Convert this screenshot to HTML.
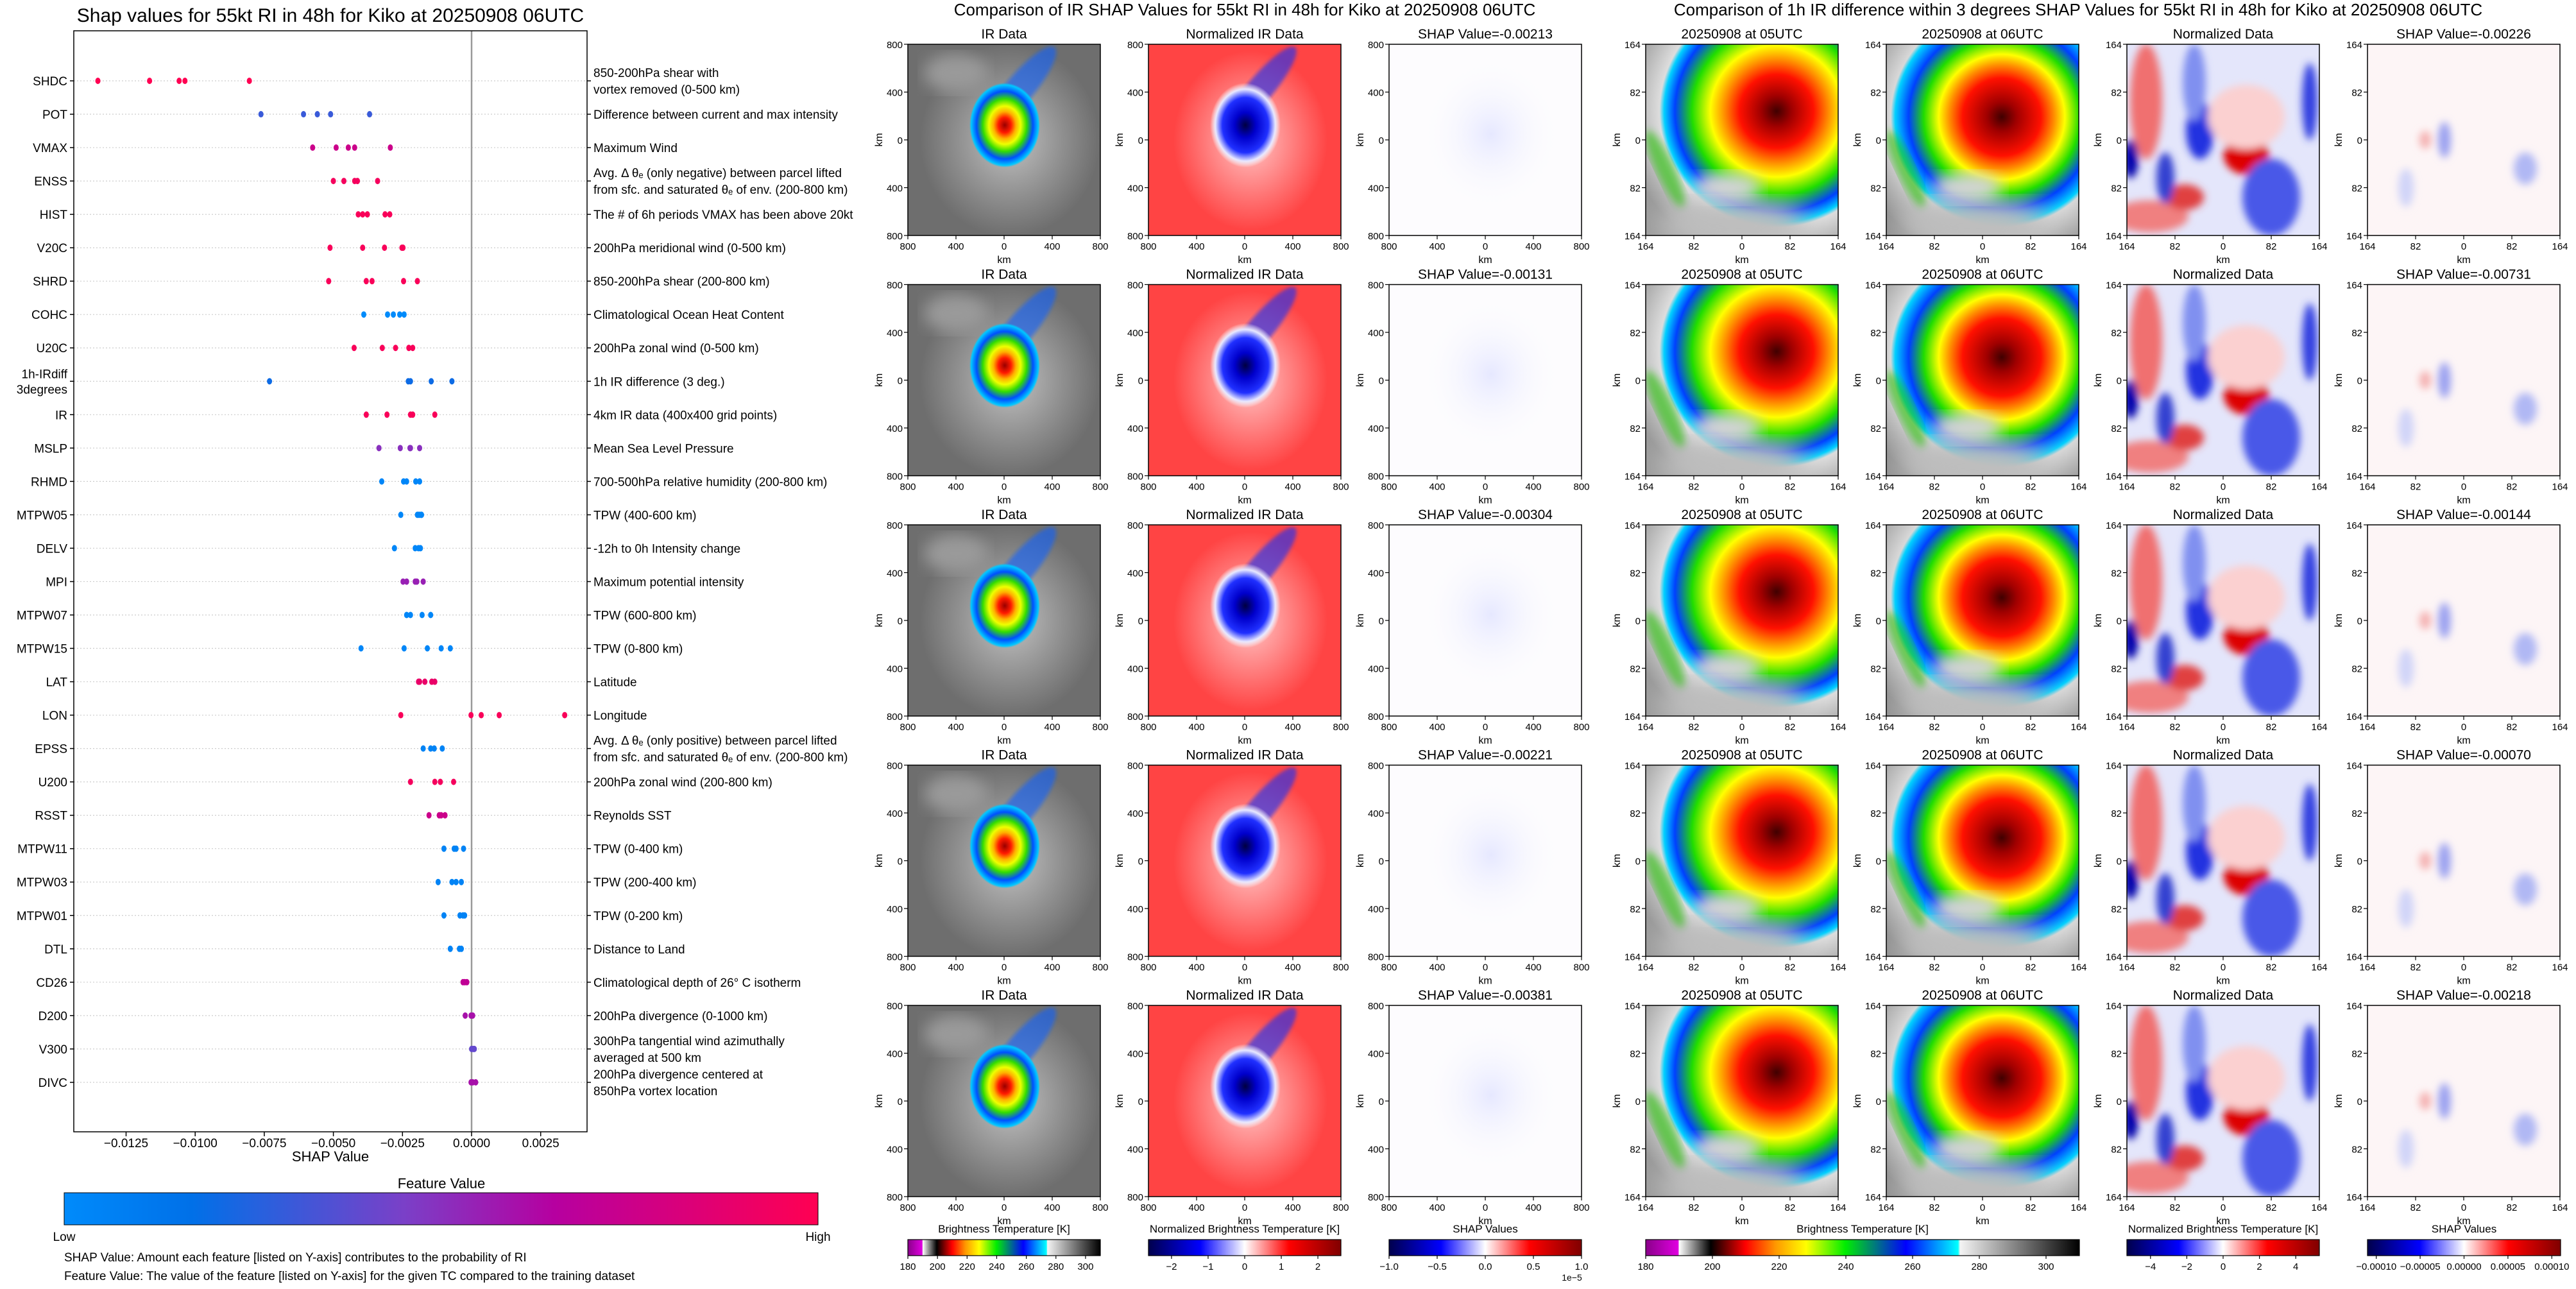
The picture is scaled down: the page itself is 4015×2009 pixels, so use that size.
<!DOCTYPE html>
<html><head><meta charset="utf-8"><title>Kiko SHAP</title>
<style>
html,body{margin:0;padding:0;background:#fff;}
svg{display:block;font-family:"Liberation Sans","DejaVu Sans",sans-serif;}
</style></head>
<body>
<svg id="fig" xmlns="http://www.w3.org/2000/svg" width="4015" height="2009" viewBox="0 0 4015 2009">
<defs>
<filter id="blur6"><feGaussianBlur stdDeviation="6"/></filter>
<filter id="blur12"><feGaussianBlur stdDeviation="12"/></filter>
<filter id="blur20"><feGaussianBlur stdDeviation="20"/></filter>
<filter id="blur3"><feGaussianBlur stdDeviation="3"/></filter>
<linearGradient id="shapcm" x1="0" x2="1" y1="0" y2="0">
<stop offset="0" stop-color="#008bfb"/><stop offset="0.17" stop-color="#0070e8"/><stop offset="0.45" stop-color="#7a40c8"/><stop offset="0.65" stop-color="#b600a0"/><stop offset="1" stop-color="#ff0052"/></linearGradient>
<linearGradient id="btcm" x1="0" x2="1" y1="0" y2="0">
<stop offset="0" stop-color="#8a008a"/><stop offset="0.075" stop-color="#e000e0"/><stop offset="0.077" stop-color="#ffffff"/><stop offset="0.15" stop-color="#000000"/><stop offset="0.23" stop-color="#ff0000"/><stop offset="0.3" stop-color="#ff9900"/><stop offset="0.37" stop-color="#ffff00"/><stop offset="0.46" stop-color="#00ee00"/><stop offset="0.6" stop-color="#0000ff"/><stop offset="0.72" stop-color="#00ffff"/><stop offset="0.725" stop-color="#f4f4f4"/><stop offset="1" stop-color="#000000"/></linearGradient>
<linearGradient id="bwrcm" x1="0" x2="1" y1="0" y2="0">
<stop offset="0" stop-color="#00004c"/><stop offset="0.27" stop-color="#0000ff"/><stop offset="0.5" stop-color="#ffffff"/><stop offset="0.73" stop-color="#ff0000"/><stop offset="1" stop-color="#800000"/></linearGradient>
<radialGradient id="irSwirl"><stop offset="0" stop-color="#d8d8d8" stop-opacity="0.8"/><stop offset="1" stop-color="#d0d0d0" stop-opacity="0"/></radialGradient>
<radialGradient id="irStorm"><stop offset="0" stop-color="#990000"/><stop offset="0.18" stop-color="#ff1a00"/><stop offset="0.32" stop-color="#ffb000"/><stop offset="0.45" stop-color="#eeff00"/><stop offset="0.62" stop-color="#33dd00"/><stop offset="0.8" stop-color="#0050ff"/><stop offset="0.95" stop-color="#00c8ff"/><stop offset="1" stop-color="#00c8ff" stop-opacity="0"/></radialGradient>
<radialGradient id="nrStorm"><stop offset="0" stop-color="#000040"/><stop offset="0.3" stop-color="#0000cc"/><stop offset="0.65" stop-color="#2030ff"/><stop offset="0.85" stop-color="#e8e8ff"/><stop offset="1" stop-color="#ffffff" stop-opacity="0"/></radialGradient>
<radialGradient id="nrHalo"><stop offset="0" stop-color="#ffffff" stop-opacity="0.7"/><stop offset="1" stop-color="#ffffff" stop-opacity="0"/></radialGradient>
<radialGradient id="shHalo"><stop offset="0" stop-color="#e6e8ff"/><stop offset="1" stop-color="#fdfdff" stop-opacity="0"/></radialGradient>
<radialGradient id="r05" cx="0.68" cy="0.35" r="0.8"><stop offset="0" stop-color="#400000"/><stop offset="0.1" stop-color="#a00000"/><stop offset="0.24" stop-color="#ff1000"/><stop offset="0.34" stop-color="#ff9000"/><stop offset="0.43" stop-color="#ffff00"/><stop offset="0.55" stop-color="#20dd00"/><stop offset="0.66" stop-color="#0040ff"/><stop offset="0.73" stop-color="#00d0ff"/><stop offset="0.76" stop-color="#dddddd"/><stop offset="1" stop-color="#999999"/></radialGradient>
<radialGradient id="r06" cx="0.6" cy="0.38" r="0.78"><stop offset="0" stop-color="#400000"/><stop offset="0.1" stop-color="#a00000"/><stop offset="0.26" stop-color="#ff1000"/><stop offset="0.35" stop-color="#ff9000"/><stop offset="0.42" stop-color="#ffff00"/><stop offset="0.52" stop-color="#20dd00"/><stop offset="0.62" stop-color="#0040ff"/><stop offset="0.71" stop-color="#00d0ff"/><stop offset="0.74" stop-color="#d8d8d8"/><stop offset="1" stop-color="#909090"/></radialGradient>
</defs>
</svg>
<script>
// ---------------- beeswarm data ----------------
const features = ["SHDC","POT","VMAX","ENSS","HIST","V20C","SHRD","COHC","U20C","1h-IRdiff\n3degrees","IR","MSLP","RHMD","MTPW05","DELV","MPI","MTPW07","MTPW15","LAT","LON","EPSS","U200","RSST","MTPW11","MTPW03","MTPW01","DTL","CD26","D200","V300","DIVC"];
const descriptions = ["850-200hPa shear with\nvortex removed (0-500 km)","Difference between current and max intensity","Maximum Wind","Avg. Δ θe (only negative) between parcel lifted\nfrom sfc. and saturated θe of env. (200-800 km)","The # of 6h periods VMAX has been above 20kt","200hPa meridional wind (0-500 km)","850-200hPa shear (200-800 km)","Climatological Ocean Heat Content","200hPa zonal wind (0-500 km)","1h IR difference (3 deg.)","4km IR data (400x400 grid points)","Mean Sea Level Pressure","700-500hPa relative humidity (200-800 km)","TPW (400-600 km)","-12h to 0h Intensity change","Maximum potential intensity","TPW (600-800 km)","TPW (0-800 km)","Latitude","Longitude","Avg. Δ θe (only positive) between parcel lifted\nfrom sfc. and saturated θe of env. (200-800 km)","200hPa zonal wind (200-800 km)","Reynolds SST","TPW (0-400 km)","TPW (200-400 km)","TPW (0-200 km)","Distance to Land","Climatological depth of 26° C isotherm","200hPa divergence (0-1000 km)","300hPa tangential wind azimuthally\naveraged at 500 km","200hPa divergence centered at\n850hPa vortex location"];
const shapValues = [
 [-0.01352,-0.01165,-0.01058,-0.01037,-0.00804],
 [-0.00762,-0.00608,-0.00558,-0.0051,-0.00369],
 [-0.00575,-0.0049,-0.00446,-0.00423,-0.00294],
 [-0.005,-0.00462,-0.00423,-0.00413,-0.0034],
 [-0.0041,-0.00394,-0.00377,-0.00313,-0.00296],
 [-0.00512,-0.00394,-0.00315,-0.00252,-0.00248],
 [-0.00517,-0.00381,-0.0036,-0.00246,-0.00196],
 [-0.0039,-0.00304,-0.00283,-0.0026,-0.00244],
 [-0.00425,-0.00323,-0.00275,-0.00227,-0.00213],
 [-0.00731,-0.00229,-0.00221,-0.00146,-0.00071],
 [-0.00381,-0.00306,-0.00221,-0.00213,-0.00133],
 [-0.00335,-0.00258,-0.00223,-0.00221,-0.00188],
 [-0.00325,-0.00246,-0.00235,-0.00202,-0.00188],
 [-0.00256,-0.00196,-0.0019,-0.00183,-0.00181],
 [-0.00279,-0.00204,-0.00192,-0.00185],
 [-0.00248,-0.00235,-0.00204,-0.00198,-0.00175],
 [-0.00235,-0.00221,-0.00179,-0.00148],
 [-0.004,-0.00244,-0.0016,-0.0011,-0.00077],
 [-0.00192,-0.00188,-0.00169,-0.00144,-0.00133],
 [-0.00256,-0.00002,0.00035,0.001,0.00337],
 [-0.00175,-0.00148,-0.00135,-0.00106],
 [-0.00221,-0.00133,-0.00113,-0.00065],
 [-0.00154,-0.00117,-0.0011,-0.00096],
 [-0.001,-0.00063,-0.00056,-0.00029],
 [-0.00121,-0.00071,-0.00056,-0.00037],
 [-0.001,-0.00042,-0.00031,-0.00025],
 [-0.00077,-0.00044,-0.00037],
 [-0.00031,-0.00025,-0.00017],
 [-0.00023,-0.00002,0.00004],
 [0,0.00006,0.0001],
 [-0.00002,0.00004,0.00015]];
const featureValues = [1,0.3,0.75,0.95,0.97,0.97,0.97,0,0.97,0.2,0.97,0.5,0.03,0.03,0.03,0.55,0.03,0.03,0.9,0.97,0.05,0.95,0.75,0.05,0.05,0.05,0.05,0.7,0.6,0.4,0.6];
const xTicks = [-0.0125,-0.01,-0.0075,-0.005,-0.0025,0,0.0025];
const xTickLabels = ["−0.0125","−0.0100","−0.0075","−0.0050","−0.0025","0.0000","0.0025"];
const irShap = ["-0.00213","-0.00131","-0.00304","-0.00221","-0.00381"];
const diffShap = ["-0.00226","-0.00731","-0.00144","-0.00070","-0.00218"];
const btTicks = [180,200,220,240,260,280,300];
const normTicksMid = [-2,-1,0,1,2];
const shapTicksMid = [-1.0,-0.5,0.0,0.5,1.0];
const normTicksRight = [-4,-2,0,2,4];
const shapTicksRight = [-0.0001,-0.00005,0,0.00005,0.0001];

const svg = document.getElementById('fig');
const NS = 'http://www.w3.org/2000/svg';
function el(tag, attrs, parent){const e=document.createElementNS(NS,tag);for(const k in attrs)e.setAttribute(k,attrs[k]);(parent||svg).appendChild(e);return e;}
function txt(x,y,s,size,anchor,parent,extra){const t=el('text',Object.assign({x:x,y:y,'font-size':size,'text-anchor':anchor||'middle',fill:'#000'},extra||{}),parent);t.textContent=s;return t;}

// ---------------- left beeswarm ----------------
const AX_L=115, AX_R=915, AX_T=48, AX_B=1764;
const xScale = v => 735 + v*43080;
const yScale = i => 126 + i*52.03;
function cmap(t){
  const st=[[0,[0,139,251]],[0.17,[0,112,232]],[0.45,[122,64,200]],[0.65,[182,0,160]],[1,[255,0,82]]];
  for(let i=1;i<st.length;i++){if(t<=st[i][0]){const a=st[i-1],b=st[i];const f=(t-a[0])/(b[0]-a[0]);return 'rgb('+a[1].map((c,j)=>Math.round(c+(b[1][j]-c)*f)).join(',')+')';}}
  return 'rgb(255,0,82)';
}
const left = el('g',{});


const t0 = txt(515,34,'Shap values for 55kt RI in 48h for Kiko at 20250908 06UTC',30,'middle',left);


features.forEach((f,i)=>{
  const y=yScale(i);
  const g=el('line',{x1:AX_L,x2:AX_R,y1:y,y2:y,stroke:'#ccc','stroke-width':1.2,'stroke-dasharray':'2,3'},left);
  
  
  el('line',{x1:AX_L-6,x2:AX_L,y1:y,y2:y,stroke:'#000','stroke-width':1.5},left);
  el('line',{x1:AX_R,x2:AX_R+6,y1:y,y2:y,stroke:'#000','stroke-width':1.5},left);
  const lines=f.split('\n');
  lines.forEach((s,k)=>{const tl=txt(105,y+7+(k-(lines.length-1)/2)*24,s,19,'end',left);
    
    });
  const d=descriptions[i].split('\n');
  d.forEach((s,k)=>{const tr=txt(925,y+7+(k-(d.length-1)/2)*26,s.replace(/θe/g,'θₑ'),19,'start',left);
    
    });
});
const zl=el('line',{x1:xScale(0),x2:xScale(0),y1:AX_T,y2:AX_B,stroke:'#999','stroke-width':2.5},left);


shapValues.forEach((arr,i)=>{arr.forEach(v=>{
  const c=el('ellipse',{cx:xScale(v),cy:yScale(i),rx:4,ry:5,fill:cmap(featureValues[i])},left);
  
  
});});
const fr=el('rect',{x:AX_L,y:AX_T,width:AX_R-AX_L,height:AX_B-AX_T,fill:'none',stroke:'#000','stroke-width':1.5},left);


xTicks.forEach((v,i)=>{el('line',{x1:xScale(v),x2:xScale(v),y1:AX_B,y2:AX_B+7,stroke:'#000','stroke-width':1.5},left);
  const tt=txt(xScale(v),AX_B+24,xTickLabels[i],19,'middle',left);
  
  });
const xl=txt(515,1810,'SHAP Value',22,'middle',left);


const ft=txt(688,1852,'Feature Value',22,'middle',left);


const cb=el('rect',{x:100,y:1859,width:1175,height:50,fill:'url(#shapcm)',stroke:'#000','stroke-width':1},left);


const lo=txt(100,1934,'Low',19,'middle',left);


const hi=txt(1275,1934,'High',19,'middle',left);


const n1=txt(100,1966,'SHAP Value: Amount each feature [listed on Y-axis] contributes to the probability of RI',19,'start',left);


const n2=txt(100,1995,'Feature Value: The value of the feature [listed on Y-axis] for the given TC compared to the training dataset',19,'start',left);



// ---------------- image panels ----------------
const rowTops=[69,443.5,818,1192.5,1567];
const PW=300, PH=298;
const midX=[1415,1790,2165];
const rightX=[2565,2940,3315,3690];

function drawPanel(g,x,y,type){
  const cp='cp'+Math.round(x)+'_'+Math.round(y);
  const c=el('clipPath',{id:cp},g);el('rect',{x:x,y:y,width:PW,height:PH},c);
  const p=el('g',{'clip-path':'url(#'+cp+')'},g);
  const cx=x+PW*0.53, cy=y+PH*0.47;
  if(type==='ir'){
    el('rect',{x:x,y:y,width:PW,height:PH,fill:'#6e6e6e'},p);
    el('ellipse',{cx:cx,cy:cy+10,rx:140,ry:150,fill:'url(#irSwirl)'},p);
    el('ellipse',{cx:x+PW*0.25,cy:y+PH*0.15,rx:50,ry:30,fill:'#9a9a9a',filter:'url(#blur12)'},p);
    el('ellipse',{cx:cx+15,cy:cy-70,rx:22,ry:85,transform:'rotate(40 '+(cx+15)+' '+(cy-70)+')',fill:'#1060ff',opacity:0.6,filter:'url(#blur3)'},p);
    el('ellipse',{cx:cx-8,cy:cy-14,rx:55,ry:66,fill:'url(#irStorm)'},p);
  } else if(type==='norm'){
    el('rect',{x:x,y:y,width:PW,height:PH,fill:'#ff4444'},p);
    el('ellipse',{cx:cx,cy:cy+10,rx:120,ry:140,fill:'url(#nrHalo)'},p);
    el('ellipse',{cx:cx+15,cy:cy-70,rx:20,ry:85,transform:'rotate(40 '+(cx+15)+' '+(cy-70)+')',fill:'#2030ee',opacity:0.65,filter:'url(#blur3)'},p);
    el('ellipse',{cx:cx-8,cy:cy-14,rx:55,ry:66,fill:'url(#nrStorm)'},p);
  } else if(type==='shap'){
    el('rect',{x:x,y:y,width:PW,height:PH,fill:'#fdfcfe'},p);
    el('ellipse',{cx:cx,cy:cy,rx:110,ry:120,fill:'url(#shHalo)'},p);
  } else if(type==='r05' || type==='r06'){
    el('rect',{x:x,y:y,width:PW,height:PH,fill:'url(#'+type+')'},p);
    el('ellipse',{cx:x+PW*0.45,cy:y+PH*0.95,rx:PW*0.4,ry:PH*0.14,fill:'#bdbdbd',filter:'url(#blur20)'},p);
    el('ellipse',{cx:x+PW*0.42,cy:y+PH*0.75,rx:PW*0.18,ry:PH*0.08,fill:'#d4d4d4',filter:'url(#blur12)'},p);
    el('ellipse',{cx:x+PW*0.1,cy:y+PH*0.65,rx:14,ry:65,transform:'rotate(-25 '+(x+PW*0.1)+' '+(y+PH*0.65)+')',fill:'#20c000',opacity:0.6,filter:'url(#blur6)'},p);
  } else if(type==='rnorm'){
    el('rect',{x:x,y:y,width:PW,height:PH,fill:'#e4e6fb'},p);
    const b=el('g',{filter:'url(#blur6)'},p);
    el('ellipse',{cx:x+PW*0.1,cy:y+PH*0.3,rx:25,ry:90,fill:'#f07070'},b);
    el('ellipse',{cx:x+PW*0.12,cy:y+PH*0.9,rx:60,ry:25,fill:'#f08080'},b);
    el('ellipse',{cx:x+PW*0.38,cy:y+PH*0.45,rx:22,ry:45,fill:'#2030e0'},b);
    el('ellipse',{cx:x+PW*0.35,cy:y+PH*0.2,rx:18,ry:60,fill:'#8090f0'},b);
    el('ellipse',{cx:x+PW*0.62,cy:y+PH*0.58,rx:35,ry:30,fill:'#dd0000'},b);
    el('ellipse',{cx:x+PW*0.62,cy:y+PH*0.38,rx:60,ry:50,fill:'#fbd0d0'},b);
    el('ellipse',{cx:x+PW*0.75,cy:y+PH*0.8,rx:45,ry:60,fill:'#4858e8'},b);
    el('ellipse',{cx:x+PW*0.95,cy:y+PH*0.3,rx:12,ry:60,fill:'#3040e0'},b);
    el('ellipse',{cx:x+PW*0.02,cy:y+PH*0.6,rx:12,ry:30,fill:'#0000aa'},b);
    el('ellipse',{cx:x+PW*0.3,cy:y+PH*0.8,rx:30,ry:20,fill:'#e04040'},b);
    el('ellipse',{cx:x+PW*0.2,cy:y+PH*0.7,rx:14,ry:40,fill:'#3040d0'},b);
  } else {
    el('rect',{x:x,y:y,width:PW,height:PH,fill:'#fdf5f6'},p);
    const b=el('g',{filter:'url(#blur6)'},p);
    el('ellipse',{cx:x+PW*0.4,cy:y+PH*0.5,rx:10,ry:28,fill:'#9aa0f0'},b);
    el('ellipse',{cx:x+PW*0.82,cy:y+PH*0.65,rx:18,ry:25,fill:'#b0b8f4'},b);
    el('ellipse',{cx:x+PW*0.3,cy:y+PH*0.5,rx:9,ry:14,fill:'#f4b0b0'},b);
    el('ellipse',{cx:x+PW*0.2,cy:y+PH*0.75,rx:12,ry:30,fill:'#d0d4f8'},b);
  }
  el('rect',{x:x,y:y,width:PW,height:PH,fill:'none',stroke:'#000','stroke-width':1.5},g);
}
function axesLabels(g,x,y,labs){
  const n=labs.length;
  labs.forEach((s,i)=>{
    const px=x+PW*i/(n-1), py=y+PH*i/(n-1);
    el('line',{x1:px,x2:px,y1:y+PH,y2:y+PH+6,stroke:'#000','stroke-width':1.2},g);
    txt(px,y+PH+22,s,15,'middle',g);
    el('line',{x1:x-6,x2:x,y1:py,y2:py,stroke:'#000','stroke-width':1.2},g);
    txt(x-8,py+6,s,15,'end',g);
  });
  txt(x+PW/2,y+PH+43,'km',16,'middle',g);
  txt(x-40,y+PH/2,'km',16,'middle',g,{transform:'rotate(-90 '+(x-40)+' '+(y+PH/2)+')'});
}
const midT=txt(1940,24,'Comparison of IR SHAP Values for 55kt RI in 48h for Kiko at 20250908 06UTC',26,'middle');


const rT=txt(3239,24,'Comparison of 1h IR difference within 3 degrees SHAP Values for 55kt RI in 48h for Kiko at 20250908 06UTC',26,'middle');


const mLabs=['800','400','0','400','800'], rLabs=['164','82','0','82','164'];
rowTops.forEach((y,r)=>{
  const mt=['IR Data','Normalized IR Data','SHAP Value='+irShap[r]];
  const mtype=['ir','norm','shap'];
  midX.forEach((x,c)=>{
    const g=el('g',{});
    
    
    drawPanel(g,x,y,mtype[c]);
    axesLabels(g,x,y,mLabs);
    txt(x+PW/2,y-9,mt[c],21,'middle',g);
  });
  const rt=['20250908 at 05UTC','20250908 at 06UTC','Normalized Data','SHAP Value='+diffShap[r]];
  const rtype=['r05','r06','rnorm','rshap'];
  rightX.forEach((x,c)=>{
    const g=el('g',{});
    
    
    drawPanel(g,x,y,rtype[c]);
    axesLabels(g,x,y,rLabs);
    txt(x+PW/2,y-9,rt[c],21,'middle',g);
  });
});
function colorbar(name,x,w,grad,title,ticks,lo,hi,fmt){
  const g=el('g',{});
  
  
  txt(x+w/2,1921,title,17,'middle',g);
  el('rect',{x:x,y:1932,width:w,height:25,fill:'url(#'+grad+')',stroke:'#000','stroke-width':1.2},g);
  ticks.forEach(v=>{const px=x+(v-lo)/(hi-lo)*w;
    el('line',{x1:px,x2:px,y1:1957,y2:1962,stroke:'#000','stroke-width':1.2},g);
    txt(px,1979,fmt(v),15,'middle',g);});
}
const dash=s=>String(s).replace('-','−');
colorbar('bt-colorbar-mid',1415,300,'btcm','Brightness Temperature [K]',btTicks,180,310,v=>String(v));
colorbar('norm-colorbar-mid',1790,300,'bwrcm','Normalized Brightness Temperature [K]',normTicksMid,-2.63,2.63,v=>dash(v));
colorbar('shap-colorbar-mid',2165,300,'bwrcm','SHAP Values',shapTicksMid,-1,1,v=>dash(v.toFixed(1)));
const sc=txt(2450,1996,'1e−5',14,'middle');


colorbar('bt-colorbar-right',2565,676,'btcm','Brightness Temperature [K]',btTicks,180,310,v=>String(v));
colorbar('norm-colorbar-right',3315,300,'bwrcm','Normalized Brightness Temperature [K]',normTicksRight,-5.3,5.3,v=>dash(v));
colorbar('shap-colorbar-right',3690,301,'bwrcm','SHAP Values',shapTicksRight,-0.00011,0.00011,v=>dash(v.toFixed(5)));
</script>
</body></html>
